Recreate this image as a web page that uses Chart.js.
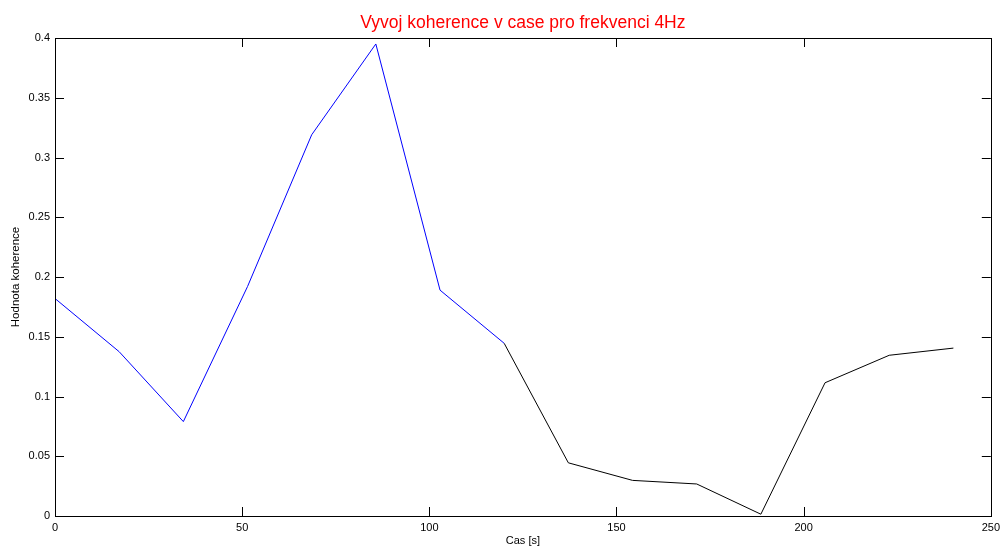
<!DOCTYPE html>
<html>
<head>
<meta charset="utf-8">
<title>Vyvoj koherence</title>
<script src="https://cdn.jsdelivr.net/npm/chart.js@4.4.1/dist/chart.umd.min.js"></script>
<style>
  html, body { margin: 0; padding: 0; background: #fff; }
  #wrap { width: 1005px; height: 551px; position: relative; }
</style>
</head>
<body>
<div id="wrap"><canvas id="chart"></canvas></div>
<script>
'use strict';

/* ---- DATA ------------------------------------------------- */
const casS = [0, 17.14, 34.29, 51.43, 68.57, 85.71, 102.86, 120, 137.14, 154.29, 171.43, 188.57, 205.71, 222.86, 240];
const koherence = [0.182, 0.1375, 0.079, 0.192, 0.319, 0.395, 0.189, 0.1445, 0.0445, 0.0298, 0.0268, 0.0015, 0.1115, 0.1345, 0.1405];
const blueRange = [0, 7];    // first part drawn blue
const blackRange = [7, 14];  // rest drawn black
const xTicks = [0, 50, 100, 150, 200, 250];
const yTicks = [0, 0.05, 0.1, 0.15, 0.2, 0.25, 0.3, 0.35, 0.4];
const titleText = 'Vyvoj koherence v case pro frekvenci 4Hz';

const FONT = 'Liberation Sans, Arial, Helvetica, sans-serif';

function pts(range) {
  const out = [];
  for (let i = range[0]; i <= range[1]; i++) out.push({ x: casS[i], y: koherence[i] });
  return out;
}

/* ---- MATLAB-like box with inward ticks + title over axes -- */
const boxPlugin = {
  id: 'matlabBox',
  afterDraw(chart) {
    const { ctx, chartArea: a, scales: { x, y } } = chart;
    const len = 9;
    ctx.save();
    ctx.strokeStyle = '#000';
    ctx.lineWidth = 1;
    ctx.beginPath();
    xTicks.forEach(v => {
      const px = Math.round(x.getPixelForValue(v)) + 0.5;
      ctx.moveTo(px, a.bottom); ctx.lineTo(px, a.bottom - len);
      ctx.moveTo(px, a.top); ctx.lineTo(px, a.top + len);
    });
    yTicks.forEach(v => {
      const py = Math.round(y.getPixelForValue(v)) + 0.5;
      ctx.moveTo(a.left, py); ctx.lineTo(a.left + len, py);
      ctx.moveTo(a.right, py); ctx.lineTo(a.right - len, py);
    });
    ctx.stroke();
    ctx.strokeRect(Math.round(a.left) + 0.5, Math.round(a.top) + 0.5,
      Math.round(a.right - a.left), Math.round(a.bottom - a.top));

    // title centred on the axes box, like MATLAB
    ctx.fillStyle = '#ff0000';
    ctx.font = '17.5px ' + FONT;
    ctx.textAlign = 'center';
    ctx.textBaseline = 'middle';
    ctx.fillText(titleText, (a.left + a.right) / 2, 23);
    ctx.restore();
  }
};

new Chart(document.getElementById('chart'), {
  type: 'line',
  data: {
    datasets: [
      { data: pts(blueRange), borderColor: '#0000ff', borderWidth: 1, pointRadius: 0, tension: 0 },
      { data: pts(blackRange), borderColor: '#000000', borderWidth: 1, pointRadius: 0, tension: 0 }
    ]
  },
  options: {
    responsive: true,
    maintainAspectRatio: false,
    animation: false,
    layout: { padding: { left: 0, right: 13, top: 38, bottom: 0 } },
    plugins: {
      legend: { display: false },
      tooltip: { enabled: false },
      title: { display: false }
    },
    scales: {
      x: {
        type: 'linear',
        min: 0, max: 250,
        afterBuildTicks: s => { s.ticks = xTicks.map(v => ({ value: v })); },
        afterFit: s => { s.height = 35; },
        grid: { display: false, drawTicks: false },
        border: { display: false },
        ticks: { color: '#000', padding: 5, maxRotation: 0, font: { family: FONT, size: 11 } },
        title: { display: true, text: 'Cas [s]', color: '#000', font: { family: FONT, size: 11 }, padding: { top: 0, bottom: 3 } }
      },
      y: {
        type: 'linear',
        min: 0, max: 0.4,
        afterBuildTicks: s => { s.ticks = yTicks.map(v => ({ value: v })); },
        afterFit: s => { s.width = 55; },
        grid: { display: false, drawTicks: false },
        border: { display: false },
        ticks: {
          color: '#000', padding: 5,
          font: { family: FONT, size: 11 },
          callback: v => String(+v.toFixed(2))
        },
        title: { display: true, text: 'Hodnota koherence', color: '#000', font: { family: FONT, size: 11.5 }, padding: { top: 9, bottom: 0 } }
      }
    }
  },
  plugins: [boxPlugin]
});
</script>
</body>
</html>
